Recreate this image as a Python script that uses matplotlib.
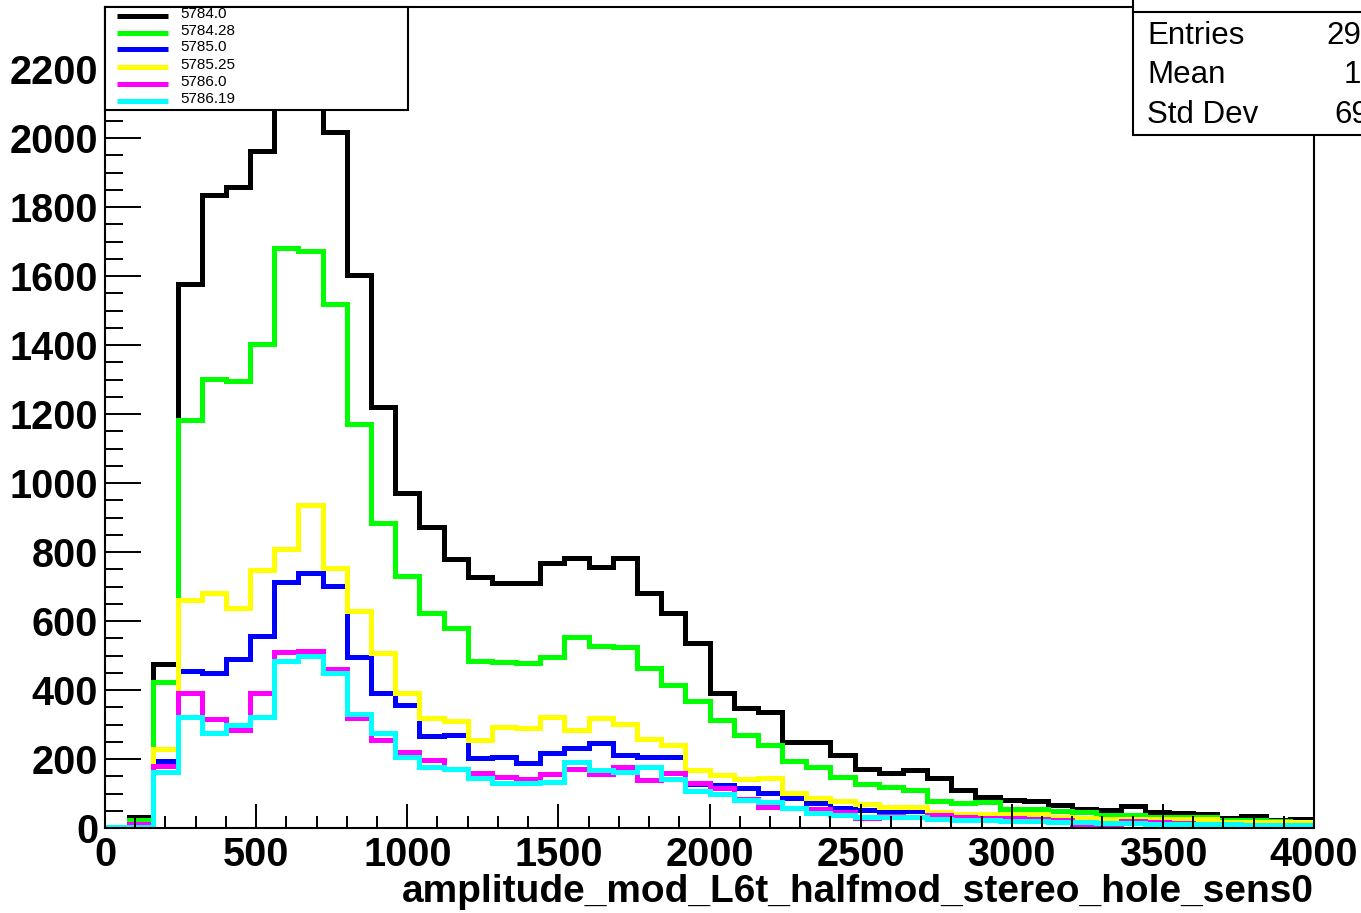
import numpy as np
import matplotlib.pyplot as plt
from matplotlib.patches import Rectangle

plt.rcParams['font.family'] = ['Liberation Sans', 'DejaVu Sans']

# 50 bins of width 80 from 0 to 4000
edges = np.linspace(0, 4000, 51)

labels = ['5784.0', '5784.28', '5785.0', '5785.25', '5786.0', '5786.19']
colors = ['#000000', '#00ff00', '#0000ff', '#ffff00', '#ff00ff', '#00ffff']

black = [0, 33, 476, 1577, 1836, 1857, 1962, 2260, 2250, 2018,
         1604, 1221, 972, 873, 780, 728, 710, 710, 768, 783,
         757, 783, 681, 623, 535, 391, 347, 337, 248, 248,
         212, 171, 159, 168, 144, 110, 91, 82, 79, 67,
         56, 53, 63, 45, 43, 42, 30, 34, 24, 26]
green = [0, 22, 423, 1183, 1302, 1296, 1404, 1682, 1674, 1520,
         1172, 884, 731, 623, 580, 484, 481, 478, 496, 554,
         528, 525, 464, 415, 368, 313, 270, 241, 195, 176,
         149, 128, 118, 110, 79, 73, 76, 55, 55, 48,
         46, 39, 38, 33, 33, 32, 24, 23, 20, 17]
blue = [0, 6, 194, 456, 450, 490, 557, 714, 740, 702,
        497, 390, 358, 267, 270, 203, 206, 188, 217, 232,
        247, 212, 206, 206, 128, 125, 115, 101, 88, 73,
        59, 52, 49, 48, 41, 38, 35, 32, 30, 27,
        25, 22, 20, 18, 17, 15, 13, 12, 11, 10]
yellow = [0, 0, 229, 661, 682, 638, 748, 809, 937, 754,
          629, 508, 391, 319, 310, 255, 293, 290, 322, 284,
          319, 302, 258, 240, 168, 155, 141, 146, 101, 86,
          79, 70, 60, 60, 47, 40, 40, 40, 40, 33,
          28, 27, 27, 25, 25, 25, 18, 18, 17, 17]
magenta = [0, 12, 180, 390, 317, 283, 391, 511, 513, 461,
           318, 255, 221, 198, 170, 159, 147, 141, 157, 170,
           157, 178, 139, 160, 130, 116, 83, 61, 58, 55,
           45, 29, 35, 33, 38, 32, 30, 28, 25, 22,
           8, 8, 20, 18, 15, 12, 12, 10, 2, 6]
cyan = [2, 3, 162, 323, 275, 299, 323, 484, 499, 449,
        330, 275, 205, 178, 170, 144, 130, 130, 134, 192,
        168, 163, 178, 141, 108, 99, 80, 76, 57, 43,
        38, 31, 31, 31, 25, 23, 23, 20, 19, 17,
        16, 15, 14, 13, 12, 11, 11, 10, 9, 10]

series = [black, green, blue, yellow, magenta, cyan]

stat_names = ['Entries', 'Mean', 'Std Dev']
stat_values = ['29312', '1023', '692.5']

W, H = 1361, 913
fig = plt.figure(figsize=(W / 100, H / 100), dpi=100)
ax = fig.add_axes([105 / W, 85 / H, 1209 / W, 821 / H])

for vals, c in zip(series, colors):
    ax.stairs(vals, edges, color=c, linewidth=3.6, joinstyle='miter')

ax.set_xlim(0, 4000)
ax.set_ylim(0, 2380)
ax.set_xticks(np.arange(0, 4001, 500))
ax.set_xticks(np.arange(0, 4001, 100), minor=True)
ax.set_yticks(np.arange(0, 2201, 200))
ax.set_yticks(np.arange(0, 2381, 50), minor=True)
ax.tick_params(axis='both', which='both', direction='in', width=1.4,
               top=False, right=False)
ax.tick_params(axis='y', which='major', length=26, labelsize=28.5, pad=5)
ax.tick_params(axis='y', which='minor', length=13)
ax.tick_params(axis='x', which='major', length=17, labelsize=28.5, pad=6)
ax.tick_params(axis='x', which='minor', length=8.6)
for lab in ax.get_xticklabels() + ax.get_yticklabels():
    lab.set_fontweight('bold')
for sp in ax.spines.values():
    sp.set_linewidth(1.5)

ax.set_xlabel('amplitude_mod_L6t_halfmod_stereo_hole_sens0', loc='right',
              fontsize=28, fontweight='bold', labelpad=0)

# legend box (top-left, ROOT style)
ax.add_patch(Rectangle((0, 0.8745), 0.2506, 0.1255, transform=ax.transAxes,
                       facecolor='white', edgecolor='black', linewidth=1.5,
                       zorder=5, clip_on=False))
row_px = [15.7, 32.7, 49.3, 66.7, 84.0, 101.0]
for lab, c, yp in zip(labels, colors, row_px):
    yl = (828 - yp) / 821
    ax.plot([0.0099, 0.0521], [yl, yl], transform=ax.transAxes, color=c,
            linewidth=3.6, solid_capstyle='butt', zorder=6, clip_on=False)
    t = ax.text(0.062, (828 - yp + 2) / 821, lab, transform=ax.transAxes,
                fontsize=11, va='center', ha='left', zorder=6)
    t.set_clip_on(True)

# stats box, cut by the figure edge
fig.add_artist(Rectangle((1133 / W, (H - 135) / H), 0.3, 0.3,
                         transform=fig.transFigure, facecolor='white',
                         edgecolor='black', linewidth=1.5, zorder=5))
fig.add_artist(plt.Line2D([1133 / W, 1.0], [(H - 12) / H, (H - 12) / H],
                          transform=fig.transFigure, color='black',
                          linewidth=1.5, zorder=6))
for name, val, yp in zip(stat_names, stat_values, [36, 75, 115]):
    fig.text(1147 / W, (H - yp) / H, name, fontsize=22.5, va='center',
             ha='left', zorder=7)
    fig.text(1413 / W, (H - yp) / H, val, fontsize=22.5, va='center',
             ha='right', zorder=7)

fig.savefig('out.png', dpi=100)
